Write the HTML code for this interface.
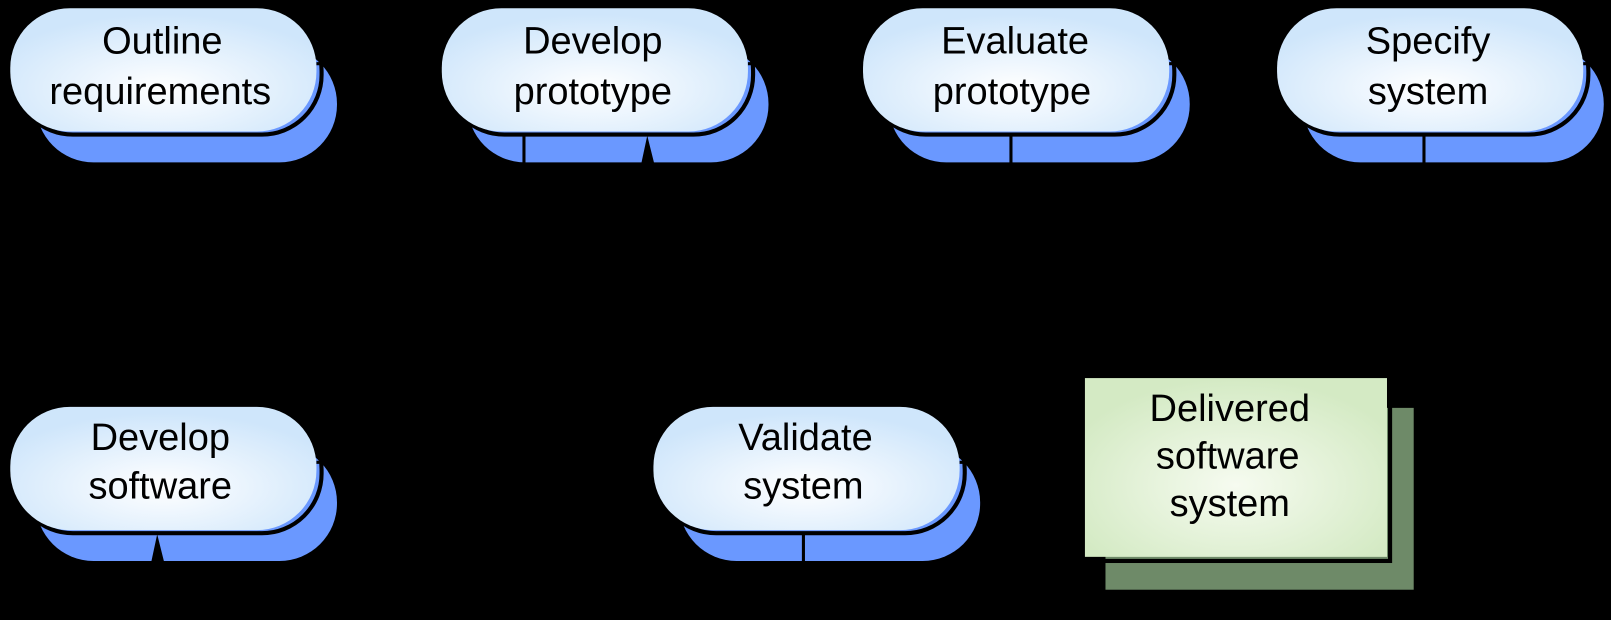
<!DOCTYPE html>
<html><head><style>
html,body{margin:0;padding:0;background:#000;}
svg{display:block;}
text{font-family:"Liberation Sans",sans-serif;font-size:37px;fill:#000;text-anchor:middle;}
</style></head><body>
<svg width="1611" height="620" viewBox="0 0 1611 620" xmlns="http://www.w3.org/2000/svg">
<defs>
<radialGradient id="g" cx="50%" cy="65%" r="60%">
<stop offset="0" stop-color="#ffffff"/><stop offset="1" stop-color="#cfe6fb"/>
</radialGradient>
<radialGradient id="gg" cx="50%" cy="60%" r="60%">
<stop offset="0" stop-color="#f6fbf0"/><stop offset="1" stop-color="#d4eac4"/>
</radialGradient>
<g id="pill">
<rect x="25" y="37" width="293" height="113" rx="56" fill="#6a98ff"/>
<rect x="3" y="3" width="300" height="120" rx="58" fill="none" stroke="#000" stroke-width="4"/>
<rect x="0" y="0" width="298" height="120" rx="58" fill="url(#g)"/>
<line x1="298" y1="54" x2="315" y2="54" stroke="#000" stroke-width="3"/>
</g>
</defs>
<g transform="scale(1.0274)">
<use href="#pill" x="10" y="8"/>
<use href="#pill" x="430" y="8"/>
<use href="#pill" x="840" y="8"/>
<use href="#pill" x="1243" y="8"/>
<use href="#pill" x="10" y="396"/>
<use href="#pill" x="636" y="396"/>
<line x1="510" y1="132" x2="510" y2="160" stroke="#000" stroke-width="3"/>
<polygon points="630,132 624,160 637,160" fill="#000"/>
<line x1="984" y1="132" x2="984" y2="160" stroke="#000" stroke-width="3"/>
<line x1="1386" y1="132" x2="1386" y2="160" stroke="#000" stroke-width="3"/>
<polygon points="153,520 147,548 160,548" fill="#000"/>
<line x1="782" y1="520" x2="782" y2="548" stroke="#000" stroke-width="3"/>
<rect x="1076" y="397" width="300" height="177" fill="#6e8a68"/>
<rect x="1059" y="371" width="294" height="175" fill="none" stroke="#000" stroke-width="4"/>
<rect x="1056" y="368" width="294" height="174" fill="url(#gg)"/>
<g style="font-size:36px">
<text x="158" y="52">Outline</text><text x="156" y="101">requirements</text>
<text x="577" y="52">Develop</text><text x="577" y="101">prototype</text>
<text x="988" y="52">Evaluate</text><text x="985" y="101">prototype</text>
<text x="1390" y="52">Specify</text><text x="1390" y="101">system</text>
<text x="156" y="438">Develop</text><text x="156" y="485">software</text>
<text x="784" y="438">Validate</text><text x="782" y="485">system</text>
<text x="1197" y="410">Delivered</text><text x="1195" y="456">software</text><text x="1197" y="502">system</text>
</g>
</g>
</svg>
</body></html>
